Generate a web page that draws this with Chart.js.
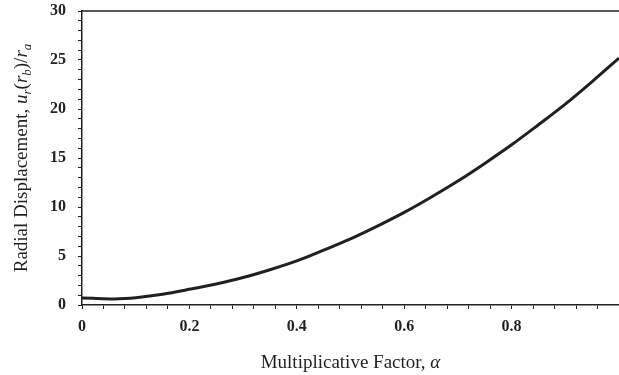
<!DOCTYPE html>
<html>
<head>
<meta charset="utf-8">
<script src="https://cdn.jsdelivr.net/npm/chart.js@4.4.1/dist/chart.umd.min.js"></script>
<style>
  html, body { margin: 0; padding: 0; background: #fff; }
  #wrap { width: 619px; height: 375px; position: relative; }
</style>
</head>
<body>
<div id="wrap"><canvas id="dispChart"></canvas></div>
<script>
// multiplicative factor (alpha) and radial displacement u_r(r_b)/r_a
const alphaValues = [0, 0.02, 0.04, 0.06, 0.08, 0.1, 0.15, 0.2, 0.25, 0.3, 0.35, 0.4, 0.45, 0.5,
  0.55, 0.6, 0.65, 0.7, 0.75, 0.8, 0.85, 0.9, 0.95, 1.0];
const displacement = [0.72, 0.68, 0.64, 0.62, 0.66, 0.75, 1.1, 1.6, 2.15, 2.8, 3.6, 4.5, 5.6, 6.75,
  8.05, 9.45, 11.0, 12.65, 14.45, 16.35, 18.4, 20.5, 22.8, 25.2];

const xMajorTicks = [0, 0.2, 0.4, 0.6, 0.8];
const yMajorTicks = [0, 5, 10, 15, 20, 25, 30];
const xMinorStep = 0.04;
const yMinorStep = 1;

const ink = '#231f20';
const serif = '"Liberation Serif", "Times New Roman", serif';

function isMajor(v, list) {
  return list.some(m => Math.abs(m - v) < 1e-6);
}

// rich-text axis titles (italic symbols, subscripts)
const yTitle = [
  { t: 'Radial Displacement, ' },
  { t: 'u', it: true },
  { t: 'r', it: true, sub: true },
  { t: '(' },
  { t: 'r', it: true },
  { t: 'b', it: true, sub: true },
  { t: ')/' },
  { t: 'r', it: true },
  { t: 'a', it: true, sub: true }
];
const xTitle = [
  { t: 'Multiplicative Factor, ' },
  { t: '\u03b1', it: true }
];

function segFont(s) {
  return (s.it ? 'italic ' : '') + (s.sub ? '13px ' : '19px ') + serif;
}

function drawRich(ctx, segs, cx, cy, angle) {
  ctx.save();
  ctx.translate(cx, cy);
  ctx.rotate(angle);
  ctx.fillStyle = ink;
  ctx.textBaseline = 'alphabetic';
  let total = 0;
  segs.forEach(s => { ctx.font = segFont(s); total += ctx.measureText(s.t).width; });
  let x = -total / 2;
  segs.forEach(s => {
    ctx.font = segFont(s);
    ctx.fillText(s.t, x, s.sub ? 10 : 6);
    x += ctx.measureText(s.t).width;
  });
  ctx.restore();
}

const framePlugin = {
  id: 'frame',
  afterDraw(chart) {
    const ctx = chart.ctx;
    const a = chart.chartArea;
    ctx.save();
    ctx.strokeStyle = ink;
    ctx.lineWidth = 1.5;
    ctx.beginPath();
    ctx.moveTo(a.left, a.top);
    ctx.lineTo(a.right, a.top);
    ctx.stroke();
    ctx.restore();
    drawRich(ctx, xTitle, (a.left + a.right) / 2, 362, 0);
    drawRich(ctx, yTitle, 21, 158, -Math.PI / 2);
  }
};

const points = alphaValues.map((a, i) => ({ x: a, y: displacement[i] }));

new Chart(document.getElementById('dispChart'), {
  type: 'line',
  data: {
    datasets: [{
      data: points,
      borderColor: ink,
      borderWidth: 3,
      pointRadius: 0,
      fill: false,
      cubicInterpolationMode: 'monotone'
    }]
  },
  options: {
    responsive: true,
    maintainAspectRatio: false,
    animation: false,
    layout: { padding: { top: 11, right: 0, left: 0, bottom: 0 } },
    plugins: {
      legend: { display: false },
      tooltip: { enabled: false }
    },
    scales: {
      x: {
        type: 'linear',
        min: 0,
        max: 1,
        afterBuildTicks(scale) {
          const t = [];
          for (let i = 0; i * xMinorStep <= 1.001; i++) t.push({ value: i * xMinorStep });
          scale.ticks = t;
        },
        afterFit(scale) {
          scale.height = 70;
          scale.paddingLeft = 0;
          scale.paddingRight = 0;
        },
        ticks: {
          autoSkip: false,
          maxRotation: 0,
          padding: 8,
          color: ink,
          font: { family: serif, size: 16, weight: 'bold' },
          callback(v) {
            if (!isMajor(v, xMajorTicks)) return '';
            return v === 0 ? '0' : v.toFixed(1);
          }
        },
        grid: {
          drawOnChartArea: false,
          drawTicks: true,
          tickLength: 4,
          tickColor: ink,
          tickWidth: 1
        },
        border: { display: true, color: ink, width: 1.5 }
      },
      y: {
        min: 0,
        max: 30,
        afterBuildTicks(scale) {
          const t = [];
          for (let v = 0; v <= 30; v += yMinorStep) t.push({ value: v });
          scale.ticks = t;
        },
        afterFit(scale) {
          scale.width = 82;
          scale.paddingTop = 0;
          scale.paddingBottom = 0;
        },
        ticks: {
          autoSkip: false,
          padding: 12,
          color: ink,
          font: { family: serif, size: 16, weight: 'bold' },
          callback(v) {
            return isMajor(v, yMajorTicks) ? String(v) : '';
          }
        },
        grid: {
          drawOnChartArea: false,
          drawTicks: true,
          tickLength: 4,
          tickColor: ink,
          tickWidth: 1
        },
        border: { display: true, color: ink, width: 1.5 }
      }
    }
  },
  plugins: [framePlugin]
});
</script>
</body>
</html>
